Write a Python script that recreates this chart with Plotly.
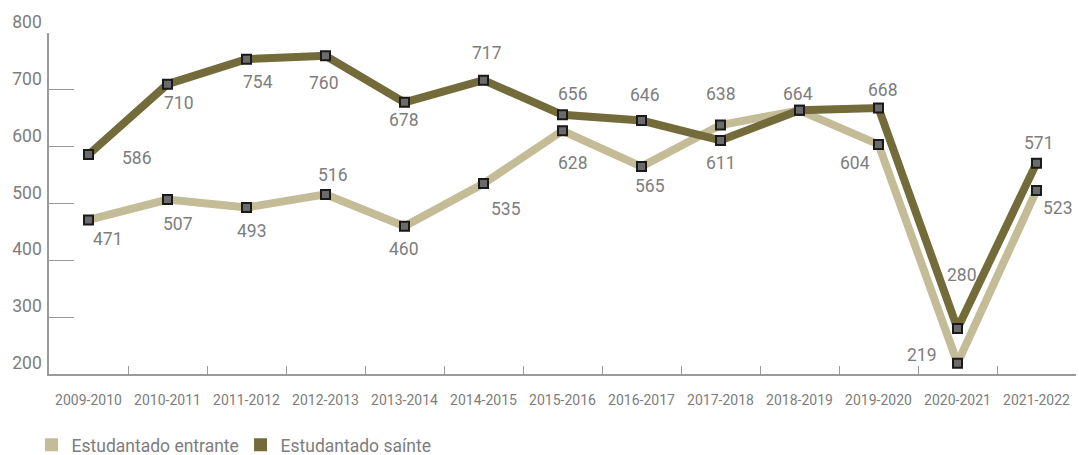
import plotly.graph_objects as go

categories = ["2009-2010", "2010-2011", "2011-2012", "2012-2013", "2013-2014",
              "2014-2015", "2015-2016", "2016-2017", "2017-2018", "2018-2019",
              "2019-2020", "2020-2021", "2021-2022"]
entrante = [471, 507, 493, 516, 460, 535, 628, 565, 638, 664, 604, 219, 523]
sainte = [586, 710, 754, 760, 678, 717, 656, 646, 611, 664, 668, 280, 571]
series_names = ["Estudantado entrante", "Estudantado saínte"]
y_ticks = [200, 300, 400, 500, 600, 700, 800]

# label offsets in pixels (style only)
off_entrante = [(19, 19), (10, 24), (5, 24), (7, -19), (-1, 23), (22, 25), (10, 32),
                (8, 19), (0, -31), (-2, -16), (-24, 19), (-36, -8), (21, 18)]
off_sainte = [(48, 3), (11, 19), (11, 23), (-2, 27), (-1, 18), (3, -27), (10, -21),
              (3, -26), (0, 23), (-2, -16), (4, -18), (4, -54), (2, -20)]

LIGHT = "#c4bc97"
DARK = "#746b3b"
GRAY = "#7d7d7d"
FONT = "Roboto"

fig = go.Figure()
marker = dict(symbol="square", size=9, color="#6b6b6b", line=dict(color="#1a1a1a", width=2))
for name, vals, col in [(series_names[0], entrante, LIGHT), (series_names[1], sainte, DARK)]:
    fig.add_trace(go.Scatter(x=categories, y=vals, mode="lines+markers", name=name,
                             line=dict(color=col, width=8), marker=marker,
                             showlegend=False, hoverinfo="x+y+name"))
for name, col in [(series_names[0], LIGHT), (series_names[1], DARK)]:
    fig.add_trace(go.Scatter(x=[None], y=[None], mode="markers", name=name,
                             marker=dict(symbol="square", size=13, color=col),
                             showlegend=True))

annotations = []
for i, (c, v, (dx, dy)) in enumerate(zip(categories, entrante, off_entrante)):
    if v == sainte[i]:
        continue  # identical value: single shared label
    annotations.append(dict(x=c, y=v, text=str(v), showarrow=False, xshift=dx, yshift=-dy,
                            font=dict(family=FONT, size=17.5, color=GRAY)))
for c, v, (dx, dy) in zip(categories, sainte, off_sainte):
    annotations.append(dict(x=c, y=v, text=str(v), showarrow=False, xshift=dx, yshift=-dy,
                            font=dict(family=FONT, size=17.5, color=GRAY)))

fig.update_layout(
    width=1079, height=455,
    margin=dict(l=49, r=3, t=33, b=81, autoexpand=False),
    paper_bgcolor="white", plot_bgcolor="white",
    font=dict(family=FONT, color=GRAY),
    annotations=annotations,
    showlegend=True,
    legend=dict(orientation="h", x=-0.017, xanchor="left", y=-0.155, yanchor="top",
                font=dict(family=FONT, size=17.5, color=GRAY),
                itemwidth=30, entrywidth=164, traceorder="normal"),
    xaxis=dict(type="category", range=[-0.5, 12.5], showgrid=False, automargin=False,
               showline=True, linecolor="#9a9a9a", linewidth=1.5,
               ticks="inside", ticklen=8, tickcolor="#9a9a9a", tickwidth=1.2,
               tickson="boundaries", tickfont=dict(family=FONT, size=14, color=GRAY),
               ticklabelstandoff=12),
    yaxis=dict(range=[200, 800], tickvals=y_ticks, showgrid=False, zeroline=False,
               automargin=False,
               showline=True, linecolor="#9a9a9a", linewidth=1.5,
               ticks="inside", ticklen=25, tickcolor="#9a9a9a", tickwidth=1.2,
               tickfont=dict(family=FONT, size=17.5, color=GRAY),
               ticklabelstandoff=2, ticklabelshift=-11),
)

fig.write_html("out.html", config={"displayModeBar": False},
               post_script="document.body.style.margin='0';")
